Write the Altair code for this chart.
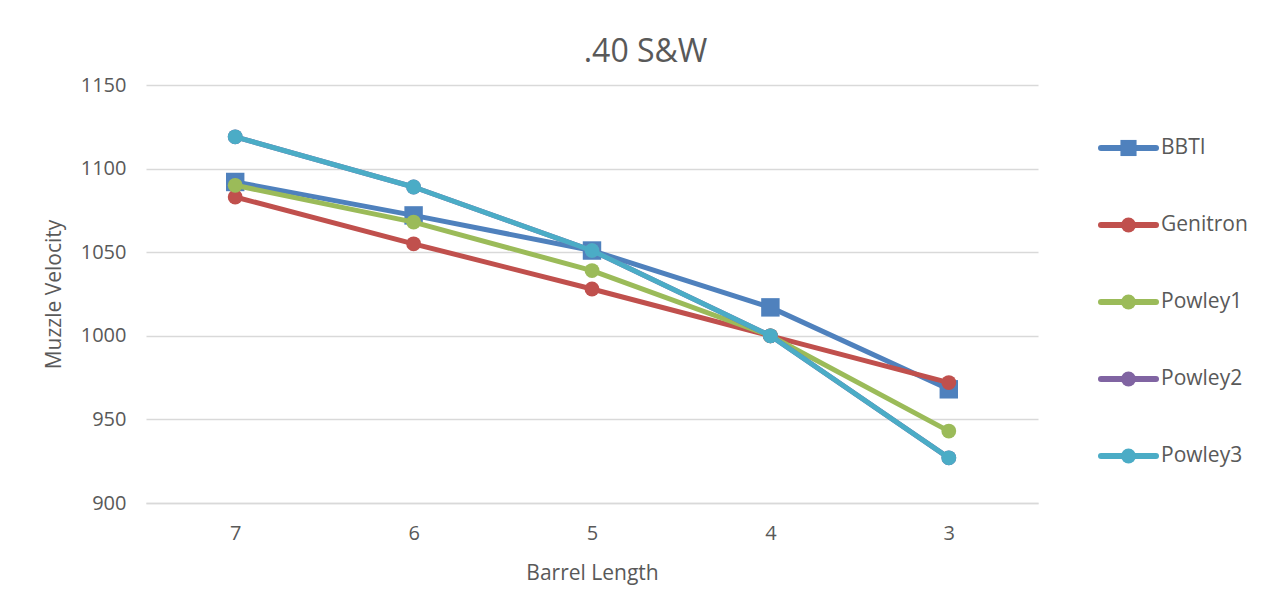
import altair as alt
import pandas as pd

barrel = ["7", "6", "5", "4", "3"]
series = ["BBTI", "Genitron", "Powley1", "Powley2", "Powley3"]
bbti = [1092, 1072, 1051, 1017, 968]
genitron = [1083, 1055, 1028, 1000, 972]
powley1 = [1090, 1068, 1039, 1000, 943]
powley2 = [1119, 1089, 1051, 1000, 927]
powley3 = [1119, 1089, 1051, 1000, 927]
colors = ["#4f81bd", "#c0504d", "#9bbb59", "#8064a2", "#4bacc6"]
shapes = ["square", "circle", "circle", "circle", "circle"]

values = [bbti, genitron, powley1, powley2, powley3]
rows = []
for s, vals in zip(series, values):
    for b, v in zip(barrel, vals):
        rows.append({"Series": s, "Barrel": b, "Velocity": v})
df = pd.DataFrame(rows)

FONT = "Open Sans"
GREY = "#595959"

color_scale = alt.Scale(domain=series, range=colors)
shape_scale = alt.Scale(domain=series, range=shapes)

x_enc = alt.X("Barrel:O", sort=barrel, title="Barrel Length",
              scale=alt.Scale(type="point", padding=0.5),
              axis=alt.Axis(labelAngle=0, ticks=False, domainColor="#d9d9d9",
                            domainWidth=1.5, labelPadding=20, titlePadding=19,
                            grid=False))
y_enc = alt.Y("Velocity:Q", title="Muzzle Velocity",
              scale=alt.Scale(domain=[900, 1150], nice=False, zero=False),
              axis=alt.Axis(values=[900, 950, 1000, 1050, 1100, 1150], ticks=False,
                            format="d", domain=False, labelPadding=20, titlePadding=16,
                            gridColor="#d9d9d9", gridWidth=1.5))

layers = []
for s in series:
    sub = alt.Chart(df).transform_filter(alt.datum.Series == s)
    line = sub.mark_line(strokeWidth=5, strokeCap="round", strokeJoin="round").encode(
        x=x_enc, y=y_enc,
        color=alt.Color("Series:N", scale=color_scale, legend=None),
    )
    pts = sub.mark_point(filled=True, opacity=1).encode(
        x=x_enc, y=y_enc,
        color=alt.Color("Series:N", scale=color_scale, legend=None),
        shape=alt.Shape("Series:N", scale=shape_scale, legend=None),
        size=alt.condition(alt.datum.Series == "BBTI", alt.value(340), alt.value(220)),
    )
    layers += [line, pts]

main = alt.layer(*layers).properties(width=892, height=418)

leg_df = pd.DataFrame({"Series": series})
leg_y = alt.Y("Series:N", sort=series, axis=None,
              scale=alt.Scale(type="point", padding=0.818))
leg_x_scale = alt.Scale(domain=[0, 1], nice=False, zero=False)
leg_base = alt.Chart(leg_df)
leg_line = leg_base.mark_rule(strokeWidth=6, strokeCap="round").encode(
    x=alt.X(datum=0, scale=leg_x_scale, axis=None),
    x2=alt.X2(datum=1),
    y=leg_y,
    color=alt.Color("Series:N", scale=color_scale, legend=None),
)
leg_pt = leg_base.mark_point(filled=True, opacity=1).encode(
    x=alt.X(datum=0.5, scale=leg_x_scale, axis=None),
    y=leg_y,
    color=alt.Color("Series:N", scale=color_scale, legend=None),
    shape=alt.Shape("Series:N", scale=shape_scale, legend=None),
    size=alt.condition(alt.datum.Series == "BBTI", alt.value(260), alt.value(220)),
)
leg_txt = leg_base.mark_text(align="left", baseline="middle", dx=5, fontSize=21,
                             font=FONT, color=GREY).encode(
    x=alt.X(datum=1, scale=leg_x_scale, axis=None),
    y=leg_y,
    text="Series:N",
)
legend = alt.layer(leg_line, leg_pt, leg_txt).properties(width=55, height=434)

chart = alt.hconcat(main, legend, spacing=60).properties(
    title=alt.TitleParams(".40 S&W", fontSize=32, font=FONT, color=GREY,
                          fontWeight="normal", anchor="middle", offset=6),
    padding={"left": 35, "top": 28, "right": 5, "bottom": 5},
).configure_view(stroke=None).configure_axis(
    labelFont=FONT, labelFontSize=20, labelColor=GREY,
    titleFont=FONT, titleFontSize=21, titleColor=GREY, titleFontWeight="normal",
).configure_concat(spacing=60)

chart.save("out.html", embed_options={"renderer": "svg", "actions": False})
